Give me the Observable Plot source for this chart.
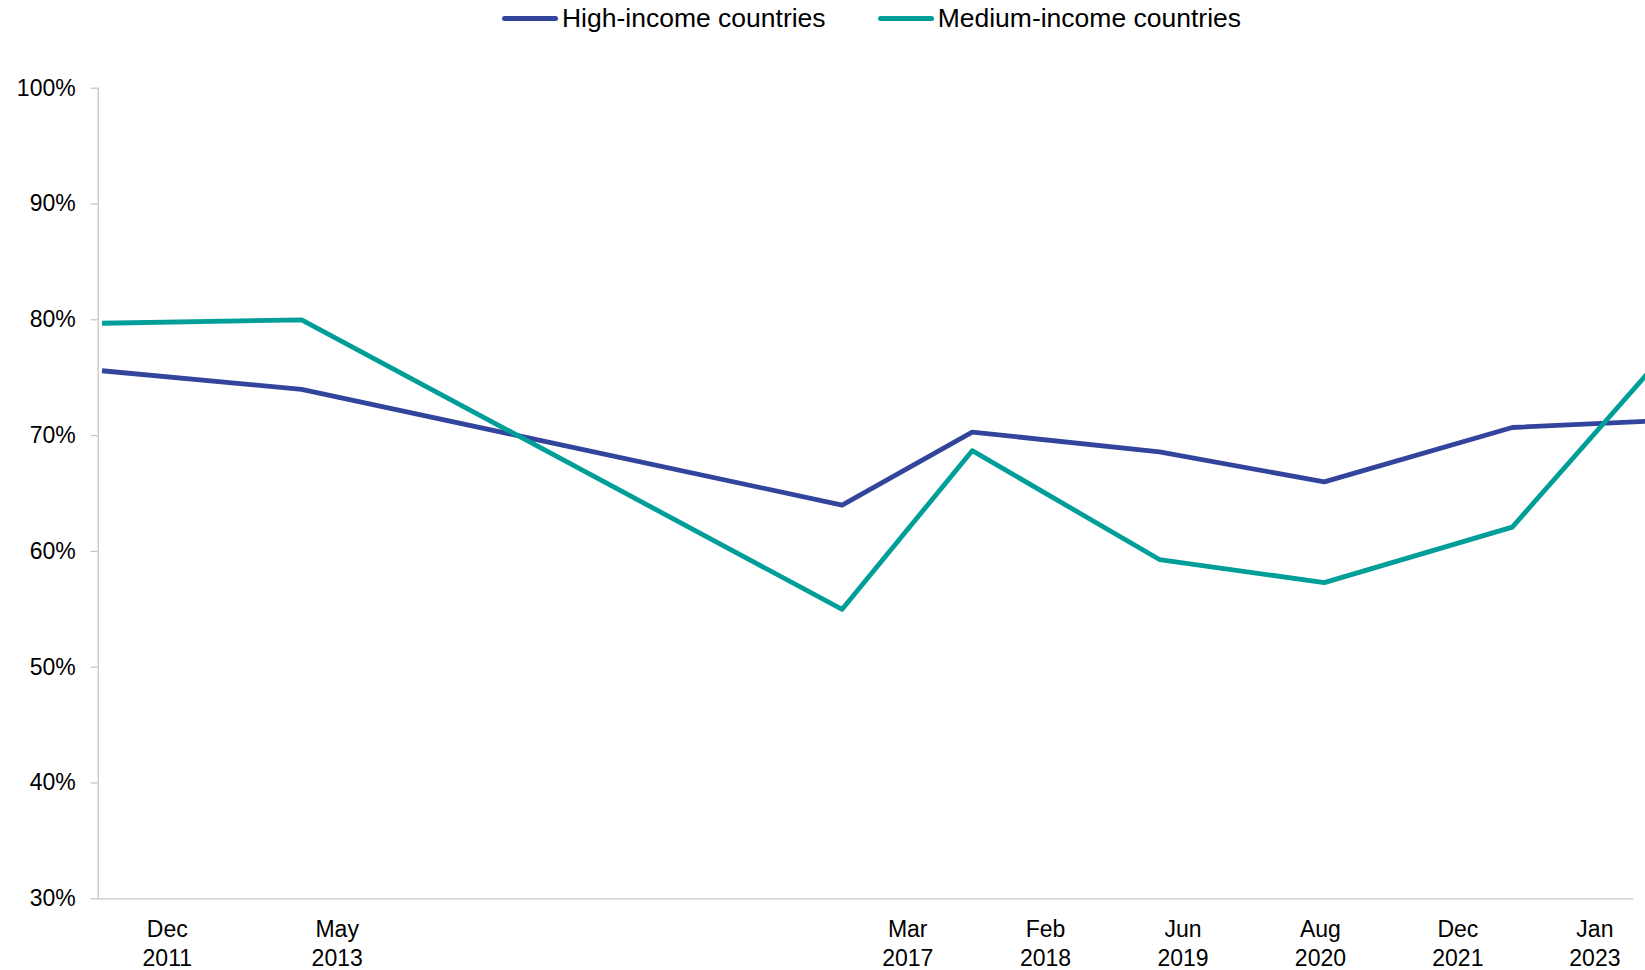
<!DOCTYPE html>
<html>
<head>
<meta charset="utf-8">
<script src="https://cdn.jsdelivr.net/npm/d3@7"></script>
<script src="https://cdn.jsdelivr.net/npm/@observablehq/plot@0.6"></script>
<style>
  html, body { margin: 0; padding: 0; background: #fff; overflow: hidden; }
  #chart { width: 1645px; height: 970px; overflow: hidden; position: relative;
           font-family: "Liberation Sans", Arial, sans-serif; color: #000; }
  #legend { height: 36px; margin-left: 98px; display: flex; justify-content: center;
            align-items: center; gap: 52px; font-size: 26.5px; }
  #legend .item { display: flex; align-items: center; white-space: nowrap; }
  #legend .swatch { width: 56px; height: 5px; border-radius: 3px; margin-right: 4px; }
  #plot svg { display: block; overflow: hidden; }
</style>
</head>
<body>
<div id="chart">
  <div id="legend"></div>
  <div id="plot"></div>
</div>
<script>
// Survey dates (first of month)
const surveyDates = ["2011-12-01", "2013-05-01", "2017-03-01", "2018-02-01",
                     "2019-06-01", "2020-08-01", "2021-12-01", "2023-01-01"];

// Share of respondents, in percent
const seriesNames = ["High-income countries", "Medium-income countries"];
const highIncome   = [75.6, 74.0, 64.0, 70.3, 68.6, 66.0, 70.7, 71.3];
const mediumIncome = [79.7, 80.0, 55.0, 68.7, 59.3, 57.3, 62.1, 77.1];
const seriesValues = [highIncome, mediumIncome];
const seriesColors = ["#33449c", "#009e99"];

// Axis labels and the dates under which each one is set
const axisLabels = ["Dec\n2011", "May\n2013", "Mar\n2017", "Feb\n2018",
                    "Jun\n2019", "Aug\n2020", "Dec\n2021", "Jan\n2023"];
const labelDates = ["2012-05-18", "2013-08-01", "2017-08-18", "2018-08-10",
                    "2019-08-01", "2020-07-22", "2021-07-13", "2022-07-03"];

// Scale extents
const xDomain = [new Date("2011-11-21"), new Date("2022-10-11")];
const yDomain = [30, 100];
const yTicks  = [30, 40, 50, 60, 70, 80, 90, 100];

const axisGray = "#c6c6c6";

const rows = seriesNames.flatMap((name, s) =>
  surveyDates.map((d, i) => ({ date: new Date(d), value: seriesValues[s][i], series: name }))
);

const ticks = labelDates.map(d => new Date(d));
const labelOf = new Map(ticks.map((d, i) => [+d, axisLabels[i]]));

// Legend
const legend = document.getElementById("legend");
seriesNames.forEach((name, i) => {
  const item = document.createElement("div");
  item.className = "item";
  const sw = document.createElement("span");
  sw.className = "swatch";
  sw.style.background = seriesColors[i];
  const label = document.createElement("span");
  label.textContent = name;
  item.append(sw, label);
  legend.append(item);
});

const chart = Plot.plot({
  width: 1645,
  height: 934,
  marginTop: 51.7,
  marginBottom: 71.7,
  marginLeft: 97.7,
  marginRight: 12,
  style: { fontFamily: "'Liberation Sans', Arial, sans-serif", fontSize: "23px", color: "#000", background: "#fff" },
  x: { type: "utc", domain: xDomain, label: null },
  y: { domain: yDomain, label: null },
  color: { domain: seriesNames, range: seriesColors },
  marks: [
    Plot.ruleX([xDomain[0]], { y1: yDomain[0], y2: yDomain[1], stroke: axisGray, strokeWidth: 1.3 }),
    Plot.ruleY([yDomain[0]], { stroke: axisGray, strokeWidth: 1.3 }),
    Plot.axisY(yTicks, {
      label: null,
      tickSize: 7, tickPadding: 15.5, stroke: axisGray, strokeWidth: 1.3, fill: "#000",
      tickFormat: d => d + "%"
    }),
    Plot.axisX(ticks, {
      label: null,
      tickSize: 0, tickPadding: 18, fill: "#000", lineHeight: 1.24,
      tickFormat: d => labelOf.get(+d)
    }),
    Plot.line(rows, {
      x: "date", y: "value", z: "series", stroke: "series",
      strokeWidth: 4.8, strokeLinejoin: "round", strokeLinecap: "butt"
    })
  ]
});

document.getElementById("plot").append(chart);
</script>
</body>
</html>
